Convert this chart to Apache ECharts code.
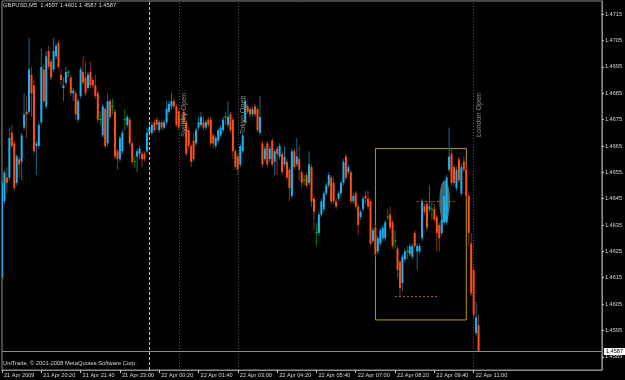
<!DOCTYPE html>
<html>
<head>
<meta charset="utf-8">
<script src="https://cdn.jsdelivr.net/npm/echarts@6/dist/echarts.min.js"></script>
<style>
  html, body { margin: 0; padding: 0; background: #000; }
  #chart { width: 625px; height: 380px; }
</style>
</head>
<body>
<div id="chart"></div>
<script>
// GBPUSD M5, 21 Apr 2009 19:00 .. 22 Apr 11:10 (one entry per bar)
const headerText = 'GBPUSD,M5  1.4597 1.4601 1.4587 1.4587';
const footerText = 'UniTrade, \u00A9 2001-2008 MetaQuotes Software Corp.';

const opens = [
  1.4615,1.4644,1.4653,1.4653,1.4670,1.4666,1.4651,1.4660,1.4659,1.4672,
  1.4678,1.4678,1.4692,1.4688,1.4665,1.4665,1.4674,1.4694,1.4680,1.4701,
  1.4697,1.4694,1.4699,1.4704,1.4692,1.4687,1.4689,1.4693,1.4691,1.4685,
  1.4685,1.4675,1.4684,1.4693,1.4691,1.4687,1.4693,1.4690,1.4688,1.4685,
  1.4675,1.4669,1.4679,1.4666,1.4682,1.4680,1.4678,1.4663,1.4660,1.4663,
  1.4675,1.4673,1.4675,1.4666,1.4659,1.4661,1.4662,1.4662,1.4662,1.4663,
  1.4670,1.4670,1.4674,1.4675,1.4671,1.4674,1.4672,1.4674,1.4678,1.4680,
  1.4682,1.4680,1.4678,1.4675,1.4678,1.4674,1.4671,1.4665,1.4667,1.4666,
  1.4672,1.4673,1.4674,1.4672,1.4675,1.4675,1.4669,1.4665,1.4667,1.4669,
  1.4671,1.4676,1.4673,1.4677,1.4675,1.4663,1.4661,1.4658,1.4663,1.4674,
  1.4680,1.4679,1.4677,1.4680,1.4679,1.4670,1.4666,1.4660,1.4666,1.4660,
  1.4667,1.4659,1.4664,1.4661,1.4662,1.4658,1.4659,1.4656,1.4646,1.4663,
  1.4658,1.4660,1.4655,1.4652,1.4654,1.4651,1.4657,1.4645,1.4632,1.4632,
  1.4639,1.4641,1.4647,1.4650,1.4653,1.4651,1.4644,1.4645,1.4647,1.4651,
  1.4661,1.4655,1.4655,1.4644,1.4647,1.4642,1.4638,1.4641,1.4646,1.4645,
  1.4644,1.4629,1.4634,1.4625,1.4628,1.4630,1.4630,1.4638,1.4639,1.4636,
  1.4629,1.4626,1.4621,1.4613,1.4622,1.4625,1.4624,1.4623,1.4632,1.4625,
  1.4625,1.4630,1.4642,1.4643,1.4641,1.4641,1.4641,1.4638,1.4635,1.4632,
  1.4636,1.4636,1.4656,1.4662,1.4657,1.4649,1.4660,1.4647,1.4659,1.4656,
  1.4646,1.4628,1.4618,1.4594,1.4597
];
const highs = [
  1.4652,1.4656,1.4657,1.4672,1.4673,1.4667,1.4662,1.4661,1.4670,1.4685,
  1.4684,1.4706,1.4695,1.4690,1.4667,1.4674,1.4702,1.4696,1.4701,1.4703,
  1.4698,1.4706,1.4704,1.4705,1.4694,1.4691,1.4695,1.4694,1.4692,1.4687,
  1.4686,1.4683,1.4695,1.4699,1.4697,1.4693,1.4697,1.4691,1.4692,1.4686,
  1.4678,1.4681,1.4680,1.4685,1.4683,1.4683,1.4679,1.4664,1.4669,1.4671,
  1.4679,1.4677,1.4676,1.4667,1.4661,1.4664,1.4665,1.4663,1.4663,1.4672,
  1.4673,1.4674,1.4675,1.4676,1.4675,1.4675,1.4675,1.4682,1.4682,1.4685,
  1.4683,1.4681,1.4679,1.4677,1.4679,1.4675,1.4672,1.4666,1.4670,1.4672,
  1.4676,1.4678,1.4676,1.4675,1.4676,1.4676,1.4670,1.4669,1.4672,1.4673,
  1.4676,1.4678,1.4682,1.4678,1.4676,1.4664,1.4662,1.4666,1.4670,1.4684,
  1.4681,1.4680,1.4680,1.4681,1.4680,1.4684,1.4667,1.4665,1.4667,1.4665,
  1.4668,1.4664,1.4665,1.4666,1.4663,1.4665,1.4660,1.4657,1.4664,1.4664,
  1.4668,1.4665,1.4656,1.4654,1.4655,1.4663,1.4658,1.4646,1.4636,1.4640,
  1.4645,1.4648,1.4651,1.4655,1.4654,1.4653,1.4645,1.4648,1.4652,1.4660,
  1.4662,1.4658,1.4656,1.4647,1.4648,1.4643,1.4641,1.4646,1.4648,1.4648,
  1.4645,1.4634,1.4635,1.4631,1.4634,1.4635,1.4637,1.4641,1.4642,1.4637,
  1.4633,1.4627,1.4622,1.4624,1.4626,1.4627,1.4628,1.4628,1.4633,1.4628,
  1.4628,1.4645,1.4643,1.4644,1.4650,1.4644,1.4643,1.4639,1.4636,1.4638,
  1.4647,1.4654,1.4672,1.4664,1.4658,1.4657,1.4661,1.4658,1.4661,1.4657,
  1.4647,1.4632,1.4619,1.4606,1.4601
];
const lows = [
  1.4614,1.4643,1.4647,1.4652,1.4664,1.4648,1.4650,1.4653,1.4652,1.4671,
  1.4668,1.4677,1.4676,1.4662,1.4654,1.4664,1.4673,1.4681,1.4679,1.4694,
  1.4690,1.4693,1.4698,1.4694,1.4688,1.4682,1.4688,1.4691,1.4684,1.4682,
  1.4675,1.4674,1.4683,1.4688,1.4684,1.4686,1.4687,1.4687,1.4683,1.4674,
  1.4673,1.4668,1.4664,1.4665,1.4675,1.4677,1.4660,1.4656,1.4659,1.4662,
  1.4671,1.4672,1.4665,1.4658,1.4657,1.4655,1.4660,1.4657,1.4659,1.4662,
  1.4669,1.4669,1.4670,1.4671,1.4670,1.4671,1.4671,1.4673,1.4677,1.4679,
  1.4679,1.4672,1.4671,1.4673,1.4673,1.4661,1.4664,1.4657,1.4659,1.4665,
  1.4671,1.4672,1.4671,1.4671,1.4672,1.4665,1.4664,1.4664,1.4666,1.4668,
  1.4670,1.4673,1.4672,1.4670,1.4660,1.4656,1.4654,1.4657,1.4662,1.4673,
  1.4677,1.4676,1.4676,1.4676,1.4670,1.4669,1.4657,1.4659,1.4657,1.4659,
  1.4657,1.4654,1.4654,1.4660,1.4654,1.4657,1.4652,1.4644,1.4645,1.4656,
  1.4657,1.4652,1.4649,1.4650,1.4649,1.4650,1.4642,1.4633,1.4627,1.4631,
  1.4638,1.4640,1.4646,1.4649,1.4643,1.4643,1.4641,1.4644,1.4646,1.4650,
  1.4652,1.4654,1.4643,1.4643,1.4641,1.4631,1.4637,1.4640,1.4643,1.4641,
  1.4627,1.4628,1.4623,1.4624,1.4627,1.4629,1.4629,1.4637,1.4633,1.4626,
  1.4626,1.4615,1.4608,1.4610,1.4621,1.4622,1.4623,1.4622,1.4626,1.4618,
  1.4624,1.4629,1.4639,1.4633,1.4640,1.4637,1.4636,1.4625,1.4625,1.4631,
  1.4635,1.4635,1.4655,1.4650,1.4650,1.4648,1.4651,1.4646,1.4655,1.4645,
  1.4627,1.4608,1.4600,1.4593,1.4587
];
const closes = [
  1.4651,1.4655,1.4651,1.4668,1.4665,1.4649,1.4661,1.4658,1.4669,1.4677,
  1.4677,1.4694,1.4685,1.4663,1.4666,1.4673,1.4695,1.4682,1.4699,1.4695,
  1.4691,1.4701,1.4703,1.4695,1.4690,1.4688,1.4693,1.4693,1.4685,1.4686,
  1.4677,1.4682,1.4694,1.4689,1.4685,1.4692,1.4688,1.4688,1.4684,1.4675,
  1.4675,1.4680,1.4665,1.4682,1.4676,1.4680,1.4661,1.4660,1.4668,1.4670,
  1.4675,1.4676,1.4666,1.4659,1.4659,1.4663,1.4664,1.4660,1.4660,1.4670,
  1.4672,1.4673,1.4671,1.4673,1.4674,1.4672,1.4674,1.4679,1.4681,1.4682,
  1.4680,1.4673,1.4672,1.4675,1.4674,1.4662,1.4665,1.4659,1.4660,1.4671,
  1.4674,1.4676,1.4672,1.4674,1.4673,1.4666,1.4666,1.4668,1.4671,1.4672,
  1.4675,1.4676,1.4676,1.4671,1.4663,1.4657,1.4656,1.4665,1.4669,1.4682,
  1.4678,1.4677,1.4679,1.4677,1.4671,1.4676,1.4658,1.4664,1.4658,1.4664,
  1.4658,1.4663,1.4662,1.4665,1.4655,1.4661,1.4653,1.4649,1.4663,1.4657,
  1.4661,1.4656,1.4651,1.4652,1.4650,1.4658,1.4644,1.4640,1.4632,1.4639,
  1.4644,1.4647,1.4650,1.4654,1.4644,1.4644,1.4642,1.4647,1.4651,1.4659,
  1.4653,1.4657,1.4644,1.4646,1.4642,1.4635,1.4640,1.4645,1.4645,1.4642,
  1.4628,1.4633,1.4624,1.4630,1.4633,1.4634,1.4636,1.4638,1.4634,1.4627,
  1.4629,1.4618,1.4611,1.4623,1.4625,1.4625,1.4627,1.4627,1.4627,1.4627,
  1.4627,1.4644,1.4640,1.4634,1.4642,1.4641,1.4637,1.4632,1.4630,1.4637,
  1.4646,1.4653,1.4661,1.4651,1.4651,1.4656,1.4652,1.4657,1.4656,1.4646,
  1.4632,1.4609,1.4601,1.4600,1.4587
];

// time axis: bar index of each label, and its text
const timeTicks = [0, 16, 32, 48, 64, 80, 96, 112, 128, 144, 160, 176, 192];
const timeLabels = ['21 Apr 2009', '21 Apr 20:20', '21 Apr 21:40', '21 Apr 23:00',
  '22 Apr 00:20', '22 Apr 01:40', '22 Apr 03:00', '22 Apr 04:20', '22 Apr 05:40',
  '22 Apr 07:00', '22 Apr 08:20', '22 Apr 09:40', '22 Apr 11:00'];
const priceTicks = [1.4715, 1.4705, 1.4695, 1.4685, 1.4675, 1.4665, 1.4655,
  1.4645, 1.4635, 1.4625, 1.4615, 1.4605, 1.4595, 1.4585];

const bidPrice = 1.4587;
const daySeparatorBar = 60;
const sessionNames = ['Sydney Open', 'Tokyo Open', 'London Open'];
const sessionBars = [72, 96, 192];

// drawn objects on the chart (bar index / price)
const boxBars = [152, 189];
const boxPrices = [1.4664, 1.4599];
const lowLine = { bars: [160, 177], price: 1.4608 };
const midLine = { bars: [168.8, 185.1], price: 1.4644 };
const ellipseCenter = [180.2, 1.4644];
const ellipseRadius = [2.2, 0.0008];

const BULL = '#1ab4f0', BULL_WICK = '#1b6a8c';
const BEAR = '#ff4e14', BEAR_WICK = '#8c3412';
const DOJI = '#00a814', DOJI_WICK = '#0a7a10';
const FONT = 'Liberation Sans, Arial, sans-serif';

const candleData = opens.map((o, i) => [i, o, closes[i], lows[i], highs[i]]);

function renderCandle(params, api) {
  const i = api.value(0);
  const o = api.value(1), c = api.value(2), l = api.value(3), h = api.value(4);
  const pH = api.coord([i, h]);
  const pL = api.coord([i, l]);
  const pO = api.coord([i, o]);
  const pC = api.coord([i, c]);
  const x = pO[0];
  let col = DOJI, wick = DOJI_WICK;
  if (c > o) { col = BULL; wick = BULL_WICK; }
  else if (c < o) { col = BEAR; wick = BEAR_WICK; }
  const top = Math.min(pO[1], pC[1]);
  const bot = Math.max(pO[1], pC[1]);
  const children = [{
    type: 'line',
    shape: { x1: x, y1: pH[1], x2: x, y2: pL[1] },
    style: { stroke: wick, lineWidth: 1 }
  }];
  if (c === o) {
    children.push({
      type: 'line',
      shape: { x1: x - 1.5, y1: top, x2: x + 1.5, y2: top },
      style: { stroke: col, lineWidth: 1 }
    });
  } else {
    children.push({
      type: 'rect',
      shape: { x: x - 1, y: top, width: 2, height: Math.max(bot - top, 1) },
      style: { fill: col }
    });
  }
  return { type: 'group', children: children };
}

function renderEllipse(params, api) {
  const c = api.coord([api.value(0), api.value(1)]);
  const s = api.size([ellipseRadius[0], ellipseRadius[1]]);
  return {
    type: 'circle',
    x: c[0], y: c[1],
    scaleX: s[0] / s[1],
    shape: { cx: 0, cy: 0, r: s[1] },
    style: { fill: '#3e6c76' }
  };
}

const chart = echarts.init(document.getElementById('chart'));

const sessionMarks = sessionNames.map((name, k) => ({
  coord: [sessionBars[k], 1.46768],
  label: { formatter: name }
}));

const option = {
  backgroundColor: '#000000',
  animation: false,
  textStyle: { fontFamily: FONT },
  title: [
    {
      text: headerText, left: 3, top: 2, padding: 0,
      textStyle: { color: '#d8d8d8', fontSize: 5.8, fontWeight: 'normal', fontFamily: FONT }
    },
    {
      text: footerText, left: 3, top: 360, padding: 0,
      textStyle: { color: '#d8d8d8', fontSize: 5.8, fontWeight: 'normal', fontFamily: FONT }
    }
  ],
  grid: {
    left: 2, right: 23, top: 1, bottom: 10,
    show: true, borderColor: '#8c8c8c', borderWidth: 1, backgroundColor: 'transparent'
  },
  xAxis: {
    type: 'value',
    min: 0, max: 244.2,
    splitLine: { show: false },
    axisLine: { show: true, onZero: false, lineStyle: { color: '#8c8c8c' } },
    axisTick: { show: true, customValues: timeTicks, length: 3, lineStyle: { color: '#c8c8c8' } },
    axisLabel: {
      customValues: timeTicks,
      formatter: v => timeLabels[timeTicks.indexOf(v)] || '',
      align: 'left', margin: 2, padding: [0, 0, 0, 2],
      color: '#d8d8d8', fontSize: 5.6, fontFamily: FONT
    }
  },
  yAxis: {
    type: 'value',
    position: 'right',
    min: 1.4580, max: 1.4720,
    splitLine: { show: false },
    axisLine: { show: true, onZero: false, lineStyle: { color: '#8c8c8c' } },
    axisTick: { show: true, customValues: priceTicks, length: 2, lineStyle: { color: '#c8c8c8' } },
    axisLabel: {
      customValues: priceTicks,
      formatter: v => v.toFixed(4),
      margin: 3, color: '#d8d8d8', fontSize: 5.6, fontFamily: FONT
    }
  },
  series: [
    {
      type: 'custom',
      name: 'ellipse',
      z: 1,
      silent: true,
      renderItem: renderEllipse,
      data: [ellipseCenter],
      encode: { x: 0, y: 1 }
    },
    {
      type: 'custom',
      name: 'GBPUSD',
      z: 2,
      clip: true,
      silent: true,
      renderItem: renderCandle,
      data: candleData,
      encode: { x: 0, y: [1, 2, 3, 4] },
      markArea: {
        silent: true,
        itemStyle: { color: 'rgba(0,0,0,0)', borderColor: '#b49a22', borderWidth: 1 },
        label: { show: false },
        data: [[{ coord: [boxBars[0], boxPrices[0]] }, { coord: [boxBars[1], boxPrices[1]] }]]
      },
      markLine: {
        silent: true,
        precision: 4,
        symbol: ['none', 'none'],
        label: { show: false },
        data: [
          { xAxis: daySeparatorBar, lineStyle: { color: '#c8c8c8', type: [3, 2], width: 1 } },
          ...sessionBars.map(b => ({ xAxis: b, lineStyle: { color: '#5a5a5a', type: [1, 2], width: 1 } })),
          [
            { coord: [lowLine.bars[0], lowLine.price], lineStyle: { color: '#a8601e', type: [2, 2], width: 1 } },
            { coord: [lowLine.bars[1], lowLine.price] }
          ],
          [
            { coord: [midLine.bars[0], midLine.price], lineStyle: { color: '#a8601e', type: [2, 2], width: 1 } },
            { coord: [midLine.bars[1], midLine.price] }
          ],
          {
            yAxis: bidPrice,
            lineStyle: { color: '#8c8c8c', type: 'solid', width: 1 },
            label: {
              show: true, position: 'end', distance: 2,
              formatter: bidPrice.toFixed(4),
              backgroundColor: '#ffffff', color: '#000000',
              padding: [1, 2, 0, 2], fontSize: 5.6, fontFamily: FONT
            }
          }
        ]
      },
      markPoint: {
        silent: true,
        symbol: 'circle',
        symbolSize: 1,
        itemStyle: { color: 'rgba(0,0,0,0)' },
        label: {
          show: true, position: 'inside', rotate: 90, offset: [0, 5],
          color: '#8a8a8a', fontSize: 7.3, fontFamily: FONT
        },
        data: sessionMarks
      }
    }
  ]
};

chart.setOption(option);
</script>
</body>
</html>
